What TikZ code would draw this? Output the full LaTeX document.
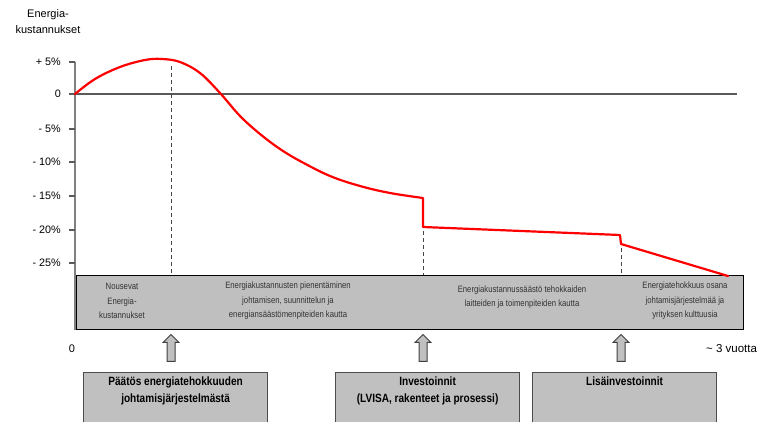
\documentclass[tikz,border=0pt]{standalone}
\usepackage{fontspec}
\setmainfont{Liberation Sans}
\newfontfamily\narrowfont[FakeStretch=0.84]{Liberation Sans}
\usetikzlibrary{shapes.arrows}
\definecolor{bandgray}{RGB}{191,191,191}
\definecolor{boxgray}{RGB}{192,192,192}
\definecolor{axisgray}{RGB}{128,128,128}
\definecolor{zerogray}{RGB}{90,90,90}
\definecolor{dashgray}{RGB}{70,70,70}
\definecolor{curvered}{RGB}{255,0,0}
\tikzset{
  axisline/.style={draw=axisgray, line width=2pt},
  tickline/.style={draw=zerogray, line width=1.2pt},
  zeroline/.style={draw=zerogray, line width=1.2pt},
  ylab/.style={anchor=east, font=\fontsize{10.8}{12}\selectfont, text=black, inner sep=0pt},
  curveline/.style={draw=curvered, line width=2.2pt, line join=round, line cap=round},
  dashline/.style={draw=dashgray, line width=1pt, dash pattern=on 4pt off 3pt},
  bandbox/.style={draw=black, line width=1.3pt, fill=bandgray, inner sep=0pt, anchor=north west},
  bandtext/.style={align=center, font=\narrowfont\fontsize{9.2}{14.5}\selectfont, text=black!80, inner sep=0pt},
  upar/.style={single arrow, shape border rotate=90, draw=black!75, line width=1pt, fill=boxgray,
    minimum height=27pt, minimum width=0pt, single arrow head extend=4pt, inner sep=3.5pt},
  lowbox/.style={draw=black!70, line width=1.2pt, fill=boxgray, inner sep=0pt, anchor=north west,
    minimum height=50pt},
  lowtext/.style={align=center, anchor=north, font=\bfseries\narrowfont\fontsize{12}{17}\selectfont, inner sep=0pt}
}
\begin{document}
\begin{tikzpicture}[x=1pt,y=-1pt]
\useasboundingbox (0,0) rectangle (764,422);

% y-axis title
\node[align=center, font=\fontsize{11}{16}\selectfont, inner sep=0pt] (ytitle) at (48,22) {Energia-\\kustannukset};

% band
\node[bandbox, minimum width=667pt, minimum height=54pt] (band) at (76,275) {};

% axes
\draw[zeroline] (75,94) -- (737,94);
\draw[axisline] (75,62) -- (75,330);
\foreach \yy/\lab in {62/{+ 5\%},94/{0},129/{- 5\%},162/{- 10\%},196/{- 15\%},230/{- 20\%},263/{- 25\%}}{
  \draw[tickline] (69,\yy) -- (75,\yy);
  \node[ylab] at (61,\yy) {\lab};
}

% curve
\coordinate (s1bot) at (423,227);
\coordinate (s2top) at (620,235);
\coordinate (s2bot) at (621,244);
\coordinate (cend) at (728,276);
\draw[curveline] plot[smooth, tension=0.6] coordinates {(75,94) (95,79) (120,67) (145,60) (162,59) (180,62) (200,73) (220,93) (240,116) (260,134) (280,149) (300,161) (330,176) (360,186) (390,193) (423,198)}
  -- (s1bot) -- (s2top) -- (s2bot) -- (cend);

% dashed lines
\coordinate (d1a) at (171,66);
\coordinate (d1b) at (171,275);
\coordinate (d2a) at (423,231);
\coordinate (d2b) at (423,275);
\coordinate (d3a) at (621,248);
\coordinate (d3b) at (621,275);
\draw[dashline] (d1a) -- (d1b);
\draw[dashline] (d2a) -- (d2b);
\draw[dashline] (d3a) -- (d3b);

% band texts
\node[bandtext] (t1) at (122,301) {Nousevat\\Energia-\\kustannukset};
\node[bandtext] (t2) at (288,301) {Energiakustannusten pienentäminen\\johtamisen, suunnittelun ja\\energiansäästömenpiteiden kautta};
\node[bandtext] (t3) at (522,297) {Energiakustannussäästö tehokkaiden\\laitteiden ja toimenpiteiden kautta};
\node[bandtext] (t4) at (685,301) {Energiatehokkuus osana\\johtamisjärjestelmää ja\\yrityksen kulttuusia};

% x labels
\node[font=\fontsize{11}{12}\selectfont, inner sep=0pt] (x0) at (72,349) {0};
\node[font=\fontsize{11.5}{12}\selectfont, inner sep=0pt, anchor=west] (x3) at (706,349) {\textasciitilde{} 3 vuotta};

% arrows
\node[upar] (a1) at (171,350) {};
\node[upar] (a2) at (423,350) {};
\node[upar] (a3) at (621,350) {};

% lower boxes
\node[lowbox, minimum width=184pt] (b1) at (83,372) {};
\node[lowbox, minimum width=184pt] (b2) at (335,372) {};
\node[lowbox, minimum width=184pt] (b3) at (532,372) {};
\node[lowtext] (bt1) at (b1.north) [yshift=-5pt] {Päätös energiatehokkuuden\\johtamisjärjestelmästä};
\node[lowtext] (bt2) at (b2.north) [yshift=-5pt] {Investoinnit\\(LVISA, rakenteet ja prosessi)};
\node[lowtext] (bt3) at (b3.north) [yshift=-5pt] {Lisäinvestoinnit};
\end{tikzpicture}
\end{document}
